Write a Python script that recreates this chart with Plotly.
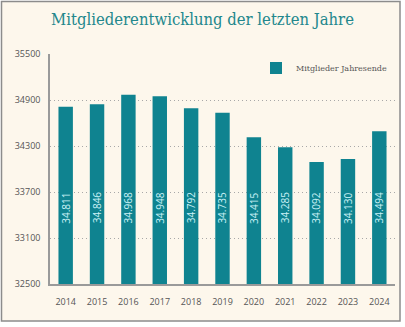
import plotly.graph_objects as go

years = ["2014", "2015", "2016", "2017", "2018", "2019", "2020", "2021", "2022", "2023", "2024"]
members = [34811, 34846, 34968, 34948, 34792, 34735, 34415, 34285, 34092, 34130, 34494]
labels = ["34.811", "34.846", "34.968", "34.948", "34.792", "34.735", "34.415", "34.285", "34.092", "34.130", "34.494"]
y_ticks = [32500, 33100, 33700, 34300, 34900, 35500]

teal = "#0f8390"
cream = "#fdf7ec"
W, H = 405, 327
L, R, T, B = 50, 10, 54, 43
pw, ph = W - L - R, H - T - B

def px_x(x):
    return (x - L) / pw

def px_y(y):
    return (H - B - y) / ph

fig = go.Figure()
fig.add_trace(go.Bar(
    x=years, y=members, name="Mitglieder Jahresende",
    marker=dict(color=teal, line=dict(width=0)),
))

annots = []
for i, lab in enumerate(labels):
    annots.append(dict(
        x=i, y=33490, text=lab, textangle=-90, showarrow=False,
        font=dict(family="Open Sans", size=10, color="#c9f1f6"),
        xref="x", yref="y", yanchor="middle", xanchor="center",
    ))

# background + border
shapes = [dict(type="rect", xref="paper", yref="paper",
               x0=px_x(1.5), x1=px_x(400), y0=px_y(321), y1=px_y(1.5),
               fillcolor=cream, line=dict(color="#8c8c8c", width=1.5), layer="below")]

fig.update_layout(
    width=W, height=H,
    margin=dict(l=L, r=R, t=T, b=B, pad=0),
    paper_bgcolor="white", plot_bgcolor="rgba(0,0,0,0)",
    bargap=0.54,
    annotations=annots,
    shapes=shapes,
    title=dict(text="Mitgliederentwicklung der letzten Jahre", x=0.5, xanchor="center",
               y=1 - 19 / H, yanchor="middle", yref="container",
               font=dict(family="DejaVu Serif Condensed, DejaVu Serif", size=16.5, color="#23878c")),
    showlegend=True,
    legend=dict(x=px_x(392), y=px_y(68), xanchor="right", yanchor="middle",
                bgcolor="rgba(0,0,0,0)", font=dict(family="DejaVu Serif", size=8, color="#555555"),
                itemwidth=30),
    xaxis=dict(type="category", showgrid=False, showline=True, linecolor="#9a9a9a", linewidth=1.5,
               ticks="", ticklabelstandoff=8, tickfont=dict(family="Open Sans", size=9, color="#555555"),
               range=[-0.5, 10.5]),
    yaxis=dict(range=[32500, 35500], tickvals=y_ticks, tickformat="d", showgrid=True, gridcolor="#a8a8a8",
               griddash="1px,3px", gridwidth=1, showline=True, linecolor="#9a9a9a", linewidth=1.5,
               ticks="", ticklabelstandoff=6, zeroline=False,
               tickfont=dict(family="Open Sans", size=9, color="#555555")),
)

fig.write_html("out.html")
